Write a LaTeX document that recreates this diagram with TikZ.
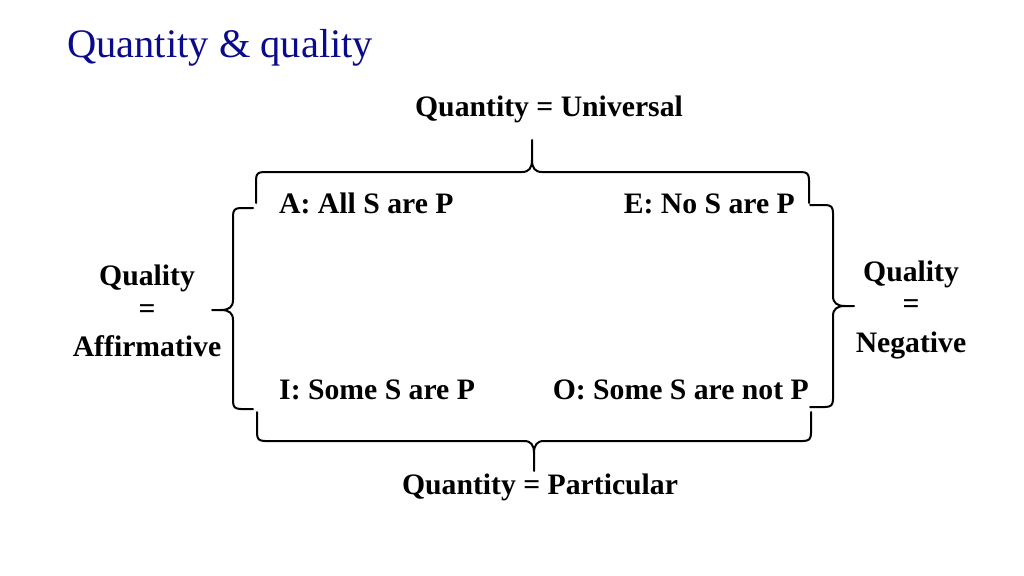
\documentclass[tikz,border=0pt]{standalone}
\usepackage{fontspec}
\setmainfont{Liberation Serif}
\definecolor{titleblue}{RGB}{10,10,140}
\begin{document}
\begin{tikzpicture}[x=1pt,y=-1pt,
  lbl/.style={inner sep=0pt,font=\fontsize{29.7}{35}\selectfont\bfseries},
  bracepath/.style={draw=black,line width=2pt,line join=round,line cap=round}]
\useasboundingbox[fill=white] (0,0) rectangle (1024,575);
% title
\node[inner sep=0pt,anchor=base west,text=titleblue,font=\fontsize{40.5}{46}\selectfont] (title) at (67,58) {Quantity \& quality};
% labels
\node[lbl,anchor=base] (univ) at (549,117) {Quantity = Universal};
\node[lbl,anchor=base] (part) at (540,494) {Quantity = Particular};
\node[lbl,anchor=base west] (A) at (279,213) {A: All S are P};
\node[lbl,anchor=base east] (E) at (795,213) {E: No S are P};
\node[lbl,anchor=base west] (I) at (279,399) {I: Some S are P};
\node[lbl,anchor=base east] (O) at (809,399) {O: Some S are not P};
\node[lbl,anchor=base] (ql) at (147,285) {Quality};
\node[lbl] (eql) at (147,312) {=};
\node[lbl,anchor=base] (aff) at (147,356) {Affirmative};
\node[lbl,anchor=base] (qr) at (911,281) {Quality};
\node[lbl] (eqr) at (911,307) {=};
\node[lbl,anchor=base] (neg) at (911,352) {Negative};
% top brace
\draw[bracepath] (256,203) -- (256,180) .. controls (256,174) and (258,172) .. (264,172) -- (522,172)
  .. controls (529,172) and (532,168) .. (532,160) -- (532,140);
\draw[bracepath] (532,160) .. controls (532,168) and (535,172) .. (542,172) -- (801,172)
  .. controls (807,172) and (809,174) .. (809,180) -- (809,203);
% bottom brace
\draw[bracepath] (257,412) -- (257,433) .. controls (257,439) and (259,441) .. (265,441) -- (524,441)
  .. controls (531,441) and (534,445) .. (534,453) -- (534,471);
\draw[bracepath] (534,453) .. controls (534,445) and (537,441) .. (544,441) -- (803,441)
  .. controls (809,441) and (811,439) .. (811,433) -- (811,412);
% left brace
\draw[bracepath] (253,208) -- (241,208) .. controls (235,208) and (233,210) .. (233,216) -- (233,300)
  .. controls (233,307) and (229,310) .. (221,310) -- (212,310);
\draw[bracepath] (221,310) .. controls (229,310) and (233,313) .. (233,320) -- (233,401)
  .. controls (233,407) and (235,409) .. (241,409) -- (253,409);
% right brace
\draw[bracepath] (810,205) -- (825,205) .. controls (831,205) and (833,207) .. (833,213) -- (833,296)
  .. controls (833,303) and (837,306) .. (845,306) -- (854,306);
\draw[bracepath] (845,306) .. controls (837,306) and (833,309) .. (833,316) -- (833,399)
  .. controls (833,405) and (831,407) .. (825,407) -- (810,407);
\end{tikzpicture}
\end{document}
